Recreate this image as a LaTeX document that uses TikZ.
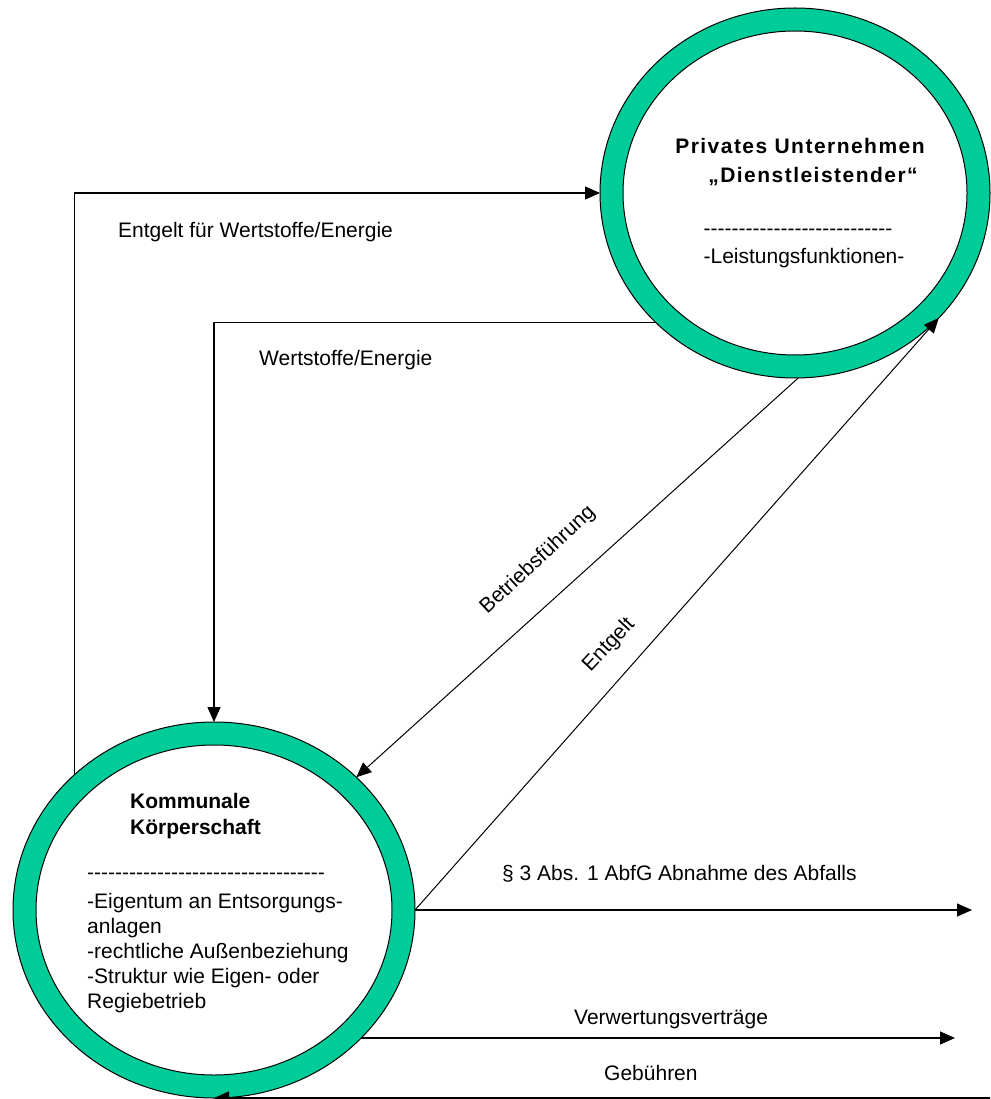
\documentclass[tikz,border=0pt]{standalone}
\usepackage{fontspec}
\setmainfont{Liberation Sans}[Ligatures=TeXOff]
\newfontfamily\spacedbold{Liberation Sans Bold}[LetterSpace=7,Ligatures=TeXOff]
\usetikzlibrary{shapes.geometric,arrows.meta}
\definecolor{ringgreen}{RGB}{0,204,153}
\tikzset{
  ringouter/.style={ellipse,draw=black,line width=1pt,fill=ringgreen,inner sep=0pt,outer sep=0pt},
  ringinner/.style={ellipse,draw=black,line width=1pt,fill=white,inner sep=0pt,outer sep=0pt},
  flow/.style={draw=black,line width=1.2pt,-{Triangle[length=15pt,width=13pt]}},
  thinflow/.style={draw=black,line width=1pt,-{Triangle[length=15pt,width=13pt]}},
  lbl/.style={font=\fontsize{21}{25}\selectfont,inner sep=0pt,anchor=base west},
  title/.style={font=\fontsize{21}{25}\selectfont\bfseries,inner sep=0pt,anchor=base west},
}
\begin{document}
\begin{tikzpicture}[x=1pt,y=-1pt]
\useasboundingbox (0,0) rectangle (990,1099);

% the two parties as green rings
\node[ringouter,minimum width=390pt,minimum height=370pt] (priv) at (795,193) {};
\node[ringinner,minimum width=344pt,minimum height=324pt] (privin) at (priv.center) {};
\node[ringouter,minimum width=402pt,minimum height=376pt] (komm) at (214,910) {};
\node[ringinner,minimum width=356pt,minimum height=330pt] (kommin) at (komm.center) {};

% text of the private company
\node[font=\fontsize{21}{25}\selectfont\spacedbold,inner sep=0pt,anchor=base] (p1) at (800,154) {Privates Unternehmen};
\node[font=\fontsize{21}{25}\selectfont\spacedbold,inner sep=0pt,anchor=base] (p2) at (813,183) {„Dienstleistender“};
\node[lbl,anchor=base] (p3) at (798,236) {---------------------------};
\node[lbl,anchor=base] (p4) at (804,263) {-Leistungsfunktionen-};

% text of the municipal body
\node[title] (k1) at (130,808) {Kommunale};
\node[title] (k2) at (130,834) {Körperschaft};
\node[lbl] (k3) at (87,879) {----------------------------------};
\node[lbl] (k4) at (87,908) {-Eigentum an Entsorgungs-};
\node[lbl] (k5) at (87,933) {anlagen};
\node[lbl] (k6) at (87,958) {-rechtliche Außenbeziehung};
\node[lbl] (k7) at (87,983) {-Struktur wie Eigen- oder};
\node[lbl] (k8) at (87,1008) {Regiebetrieb};

% free ends of the outgoing and incoming flows
\coordinate (abnEnd) at (972,910);
\coordinate (verwEnd) at (955,1040);
\coordinate (gebStart) at (990,1098);

% flows between the parties
\draw[flow] (komm.136.5) |- (priv.west);
\draw[flow] (priv.223.1) -| (komm.north);
\draw[thinflow] (priv.-89) -- (komm.43.4);
\draw[thinflow] (komm.east) -- (priv.-41.9);
\draw[flow] (komm.east) -- (komm.east -| abnEnd);
\draw[flow] (komm.-41.9) -- (komm.-41.9 -| verwEnd);
\draw[flow] (komm.south -| gebStart) -- (komm.south);

% flow labels
\node[lbl] (l1) at (118,237) {Entgelt für Wertstoffe/Energie};
\node[lbl] (l2) at (259,365) {Wertstoffe/Energie};
\node[lbl,anchor=center,rotate=43] (l3) at (538,560) {Betriebsführung};
\node[lbl,anchor=center,rotate=47] (l4) at (609,645) {Entgelt};
\node[lbl] (l5) at (502,880) {§ 3 Abs. 1 AbfG Abnahme des Abfalls};
\node[lbl] (l6) at (574,1024) {Verwertungsverträge};
\node[lbl] (l7) at (604,1080) {Gebühren};
\end{tikzpicture}
\end{document}
